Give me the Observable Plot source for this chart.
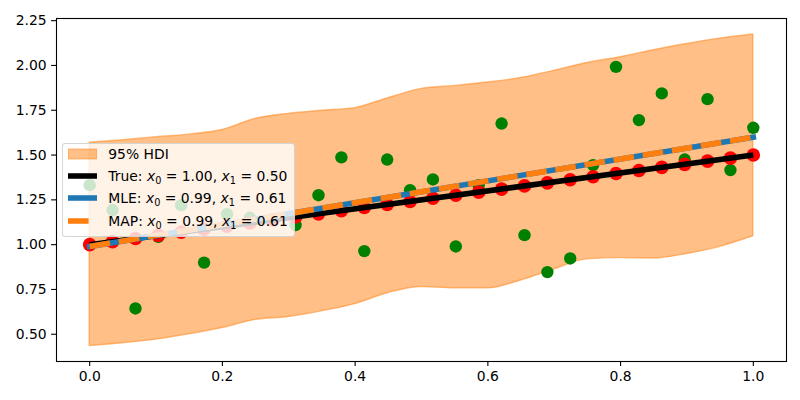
<!DOCTYPE html>
<html><head><meta charset="utf-8">
<script src="https://cdn.jsdelivr.net/npm/d3@7"></script>
<script src="https://cdn.jsdelivr.net/npm/@observablehq/plot@0.6"></script>
<style>
body{margin:0;background:#fff;}
#wrap{position:relative;width:800px;height:400px;font-family:"DejaVu Sans",sans-serif;}
#legend{position:absolute;left:62px;top:143px;width:233px;height:94px;box-sizing:border-box;background:rgba(255,255,255,0.8);border:1px solid rgba(204,204,204,0.8);border-radius:3px;}
.row{position:absolute;left:0;height:20px;display:flex;align-items:center;font-size:13.9px;color:#000;white-space:nowrap;}
.row svg{margin-left:4.7px;margin-right:11.6px;flex:none;}
.row i{font-style:italic}
.row sub{font-size:70%;vertical-align:-0.3em;line-height:0}
</style></head>
<body>
<div id="wrap"></div>
<script>
// sample x positions
const xs = [0, 0.0345, 0.0690, 0.1034, 0.1379, 0.1724, 0.2069, 0.2414, 0.2759, 0.3103,
  0.3448, 0.3793, 0.4138, 0.4483, 0.4828, 0.5172, 0.5517, 0.5862, 0.6207, 0.6552,
  0.6897, 0.7241, 0.7586, 0.7931, 0.8276, 0.8621, 0.8966, 0.9310, 0.9655, 1.0];
// observed (noisy) data – green
const observedY = [1.332, 1.193, 0.644, 1.044, 1.220, 0.900, 1.170, 1.150, 1.140, 1.109,
  1.276, 1.487, 0.964, 1.475, 1.304, 1.364, 0.990, 1.332, 1.676, 1.053,
  0.847, 0.923, 1.444, 1.992, 1.695, 1.844, 1.475, 1.812, 1.416, 1.652];
// true values – red
const trueY = [1.000, 1.017, 1.034, 1.052, 1.069, 1.086, 1.103, 1.121, 1.138, 1.155,
  1.172, 1.190, 1.207, 1.224, 1.241, 1.259, 1.276, 1.293, 1.310, 1.328,
  1.345, 1.362, 1.379, 1.397, 1.414, 1.431, 1.448, 1.466, 1.483, 1.500];
// 95% HDI band
const bandX = [0, 0.05, 0.1, 0.15, 0.2, 0.25, 0.3, 0.35, 0.4, 0.45, 0.5,
  0.55, 0.6, 0.65, 0.7, 0.75, 0.8, 0.85, 0.9, 0.95, 1.0];
const bandUpper = [1.569, 1.583, 1.600, 1.614, 1.640, 1.702, 1.730, 1.747, 1.762, 1.818, 1.869,
  1.886, 1.905, 1.930, 1.970, 2.014, 2.046, 2.085, 2.120, 2.150, 2.173];
const bandLower = [0.434, 0.450, 0.470, 0.500, 0.535, 0.580, 0.596, 0.628, 0.668, 0.730, 0.764,
  0.756, 0.756, 0.800, 0.862, 0.918, 0.925, 0.923, 0.948, 0.988, 1.047];
// fitted lines (endpoints)
const lineX = [0, 1];
const trueLine = [1.00, 1.50];
const mleLine = [0.99, 1.60];
const mapLine = [0.99, 1.60];
// ticks
const xTicks = [0, 0.2, 0.4, 0.6, 0.8, 1.0];
const yTicks = [0.50, 0.75, 1.00, 1.25, 1.50, 1.75, 2.00, 2.25];

const band = bandX.map((x, i) => ({x, lo: bandLower[i], hi: bandUpper[i]}));
const pts = xs.map((x, i) => ({x, obs: observedY[i], tru: trueY[i]}));
const lines = lineX.map((x, i) => ({x, t: trueLine[i], mle: mleLine[i], map: mapLine[i]}));

const lw = 5.56;
const chart = Plot.plot({
  width: 800, height: 400,
  marginLeft: 56, marginRight: 14, marginTop: 18, marginBottom: 39,
  style: {fontFamily: "DejaVu Sans", fontSize: "13.9px", color: "black", background: "white", overflow: "visible"},
  x: {domain: [-0.05, 1.05]},
  y: {domain: [0.348, 2.262]},
  marks: [
    Plot.areaY(band, {x: "x", y1: "lo", y2: "hi", fill: "#ff7f0e", fillOpacity: 0.5, stroke: "#ff7f0e", strokeOpacity: 0.5, strokeWidth: 1.4, curve: "monotone-x"}),
    Plot.dot(pts, {x: "x", y: "obs", r: 6.2, fill: "green", stroke: "none"}),
    Plot.dot(pts, {x: "x", y: "tru", r: 6.8, fill: "red", stroke: "none"}),
    Plot.line(lines, {x: "x", y: "t", stroke: "black", strokeWidth: lw, strokeLinecap: "butt"}),
    Plot.line(lines, {x: "x", y: "mle", stroke: "#1f77b4", strokeWidth: lw, strokeLinecap: "square"}),
    Plot.line(lines, {x: "x", y: "map", stroke: "#ff7f0e", strokeWidth: lw, strokeDasharray: "20.6,8.9", strokeLinecap: "butt"}),
    Plot.frame({stroke: "black", strokeWidth: 1.1}),
    Plot.axisX(xTicks, {tickFormat: d => d.toFixed(1), tickSize: 4.9, tickPadding: 5, label: null, strokeWidth: 1.1, fontSize: 13.9}),
    Plot.axisY(yTicks, {tickFormat: d => d.toFixed(2), tickSize: 4.9, tickPadding: 5, label: null, strokeWidth: 1.1, fontSize: 13.9})
  ]
});
const wrap = document.getElementById("wrap");
wrap.appendChild(chart);

const legend = document.createElement("div");
legend.id = "legend";
const handle = {
  hdi: '<svg width="29" height="12"><rect x="0.5" y="1" width="28" height="10" fill="#ff7f0e" fill-opacity="0.5" stroke="#ff7f0e" stroke-opacity="0.5"/></svg>',
  tru: '<svg width="29" height="12"><line x1="0" x2="29" y1="6" y2="6" stroke="black" stroke-width="5.56"/></svg>',
  mle: '<svg width="29" height="12"><line x1="0" x2="29" y1="6" y2="6" stroke="#1f77b4" stroke-width="5.56"/></svg>',
  map: '<svg width="29" height="12"><line x1="0" x2="29" y1="6" y2="6" stroke="#ff7f0e" stroke-width="5.56" stroke-dasharray="20.6,8.9"/></svg>'
};
const rows = [
  {c: 11, h: handle.hdi, t: '95% HDI'},
  {c: 33, h: handle.tru, t: 'True: <i>x</i><sub>0</sub> = 1.00, <i>x</i><sub>1</sub> = 0.50'},
  {c: 55.3, h: handle.mle, t: 'MLE: <i>x</i><sub>0</sub> = 0.99, <i>x</i><sub>1</sub> = 0.61'},
  {c: 78, h: handle.map, t: 'MAP: <i>x</i><sub>0</sub> = 0.99, <i>x</i><sub>1</sub> = 0.61'}
];
for (const r of rows) {
  const d = document.createElement("div");
  d.className = "row";
  d.style.top = (r.c - 11) + "px";
  d.innerHTML = r.h + '<span>' + r.t + '</span>';
  legend.appendChild(d);
}
wrap.appendChild(legend);
</script>
</body></html>
